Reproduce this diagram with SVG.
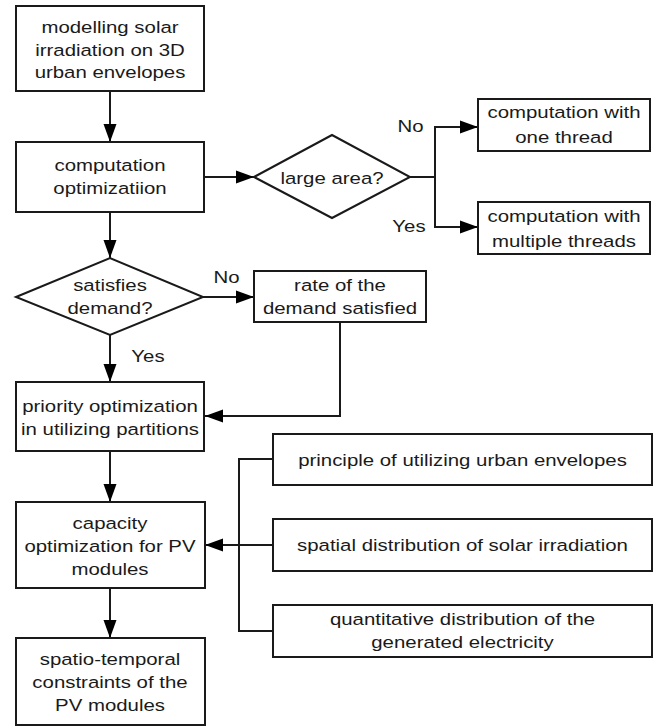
<svg xmlns="http://www.w3.org/2000/svg" width="666" height="727" viewBox="0 0 666 727">
<style>
.box{fill:#fff;stroke:#1a1a1a;stroke-width:2}
.ln{fill:none;stroke:#1a1a1a;stroke-width:2}
.t{font-family:"Liberation Sans",Arial,sans-serif;font-size:17px;fill:#1a1a1a;text-anchor:middle}
</style>
<defs>
<marker id="ah" markerUnits="userSpaceOnUse" markerWidth="18" markerHeight="14" refX="18" refY="7" orient="auto">
<path d="M0,0.5 L18,7 L0,13.5 z" fill="#000"/>
</marker>
</defs>
<rect width="666" height="727" fill="#fff"/>
<g id="connectors">
<line class="ln" x1="110" y1="91" x2="110" y2="142" marker-end="url(#ah)"/>
<line class="ln" x1="204" y1="177" x2="254" y2="177" marker-end="url(#ah)"/>
<polyline class="ln" points="410,177 435,177"/>
<polyline class="ln" points="435,227 435,127 478,127" marker-end="url(#ah)"/>
<polyline class="ln" points="435,177 435,227 478,227" marker-end="url(#ah)"/>
<line class="ln" x1="110" y1="212" x2="110" y2="258" marker-end="url(#ah)"/>
<line class="ln" x1="203" y1="297" x2="254" y2="297" marker-end="url(#ah)"/>
<line class="ln" x1="110" y1="335" x2="110" y2="382" marker-end="url(#ah)"/>
<polyline class="ln" points="340,322 340,416 205,416" marker-end="url(#ah)"/>
<line class="ln" x1="110" y1="451" x2="110" y2="502" marker-end="url(#ah)"/>
<polyline class="ln" points="273,459 239,459 239,631 273,631"/>
<line class="ln" x1="273" y1="545" x2="205" y2="545" marker-end="url(#ah)"/>
<line class="ln" x1="110" y1="588" x2="110" y2="638" marker-end="url(#ah)"/>
<text class="t" transform="translate(410.5 0) scale(1.2 1)" x="0" y="132">No</text>
<text class="t" transform="translate(409 0) scale(1.2 1)" x="0" y="232">Yes</text>
<text class="t" transform="translate(226.5 0) scale(1.2 1)" x="0" y="283">No</text>
<text class="t" transform="translate(148 0) scale(1.2 1)" x="0" y="362">Yes</text>
</g>
<g id="n1">
<rect class="box" x="16" y="6" width="188" height="85"/>
<text class="t" transform="translate(110 0) scale(1.2 1)"><tspan x="0" y="33">modelling solar</tspan><tspan x="0" y="56">irradiation on 3D</tspan><tspan x="0" y="78.5">urban envelopes</tspan></text>
</g>
<g id="n2">
<rect class="box" x="16" y="142" width="188" height="70"/>
<text class="t" transform="translate(110 0) scale(1.2 1)"><tspan x="0" y="171">computation</tspan><tspan x="0" y="194">optimizatiion</tspan></text>
</g>
<g id="d1">
<polygon class="box" points="254,177 332,135 410,177 332,218"/>
<text class="t" transform="translate(332 0) scale(1.2 1)" x="0" y="184">large area?</text>
</g>
<g id="n3">
<rect class="box" x="478" y="99" width="172" height="52"/>
<text class="t" transform="translate(564 0) scale(1.2 1)"><tspan x="0" y="118">computation with</tspan><tspan x="0" y="143">one thread</tspan></text>
</g>
<g id="n4">
<rect class="box" x="478" y="202" width="172" height="52"/>
<text class="t" transform="translate(564 0) scale(1.2 1)"><tspan x="0" y="222">computation with</tspan><tspan x="0" y="247">multiple threads</tspan></text>
</g>
<g id="d2">
<polygon class="box" points="16,297 110,258 203,297 110,335"/>
<text class="t" transform="translate(110 0) scale(1.2 1)"><tspan x="0" y="291">satisfies</tspan><tspan x="0" y="314">demand?</tspan></text>
</g>
<g id="n5">
<rect class="box" x="254" y="271" width="172" height="51"/>
<text class="t" transform="translate(340 0) scale(1.2 1)"><tspan x="0" y="291">rate of the</tspan><tspan x="0" y="314">demand satisfied</tspan></text>
</g>
<g id="n6">
<rect class="box" x="16" y="382" width="188" height="69"/>
<text class="t" transform="translate(110 0) scale(1.2 1)"><tspan x="0" y="412">priority optimization</tspan><tspan x="0" y="435">in utilizing partitions</tspan></text>
</g>
<g id="n7">
<rect class="box" x="16" y="502" width="189" height="86"/>
<text class="t" transform="translate(110 0) scale(1.2 1)"><tspan x="0" y="529">capacity</tspan><tspan x="0" y="552">optimization for PV</tspan><tspan x="0" y="575">modules</tspan></text>
</g>
<g id="n8">
<rect class="box" x="16" y="638" width="189" height="87"/>
<text class="t" transform="translate(110 0) scale(1.2 1)"><tspan x="0" y="665">spatio-temporal</tspan><tspan x="0" y="688">constraints of the</tspan><tspan x="0" y="711">PV modules</tspan></text>
</g>
<g id="r1">
<rect class="box" x="273" y="434" width="379" height="51"/>
<text class="t" transform="translate(462.5 0) scale(1.2 1)" x="0" y="466">principle of utilizing urban envelopes</text>
</g>
<g id="r2">
<rect class="box" x="273" y="519" width="379" height="52"/>
<text class="t" transform="translate(462.5 0) scale(1.2 1)" x="0" y="551">spatial distribution of solar irradiation</text>
</g>
<g id="r3">
<rect class="box" x="273" y="605" width="379" height="52"/>
<text class="t" transform="translate(462.5 0) scale(1.2 1)"><tspan x="0" y="625">quantitative distribution of the</tspan><tspan x="0" y="648">generated electricity</tspan></text>
</g>
</svg>
